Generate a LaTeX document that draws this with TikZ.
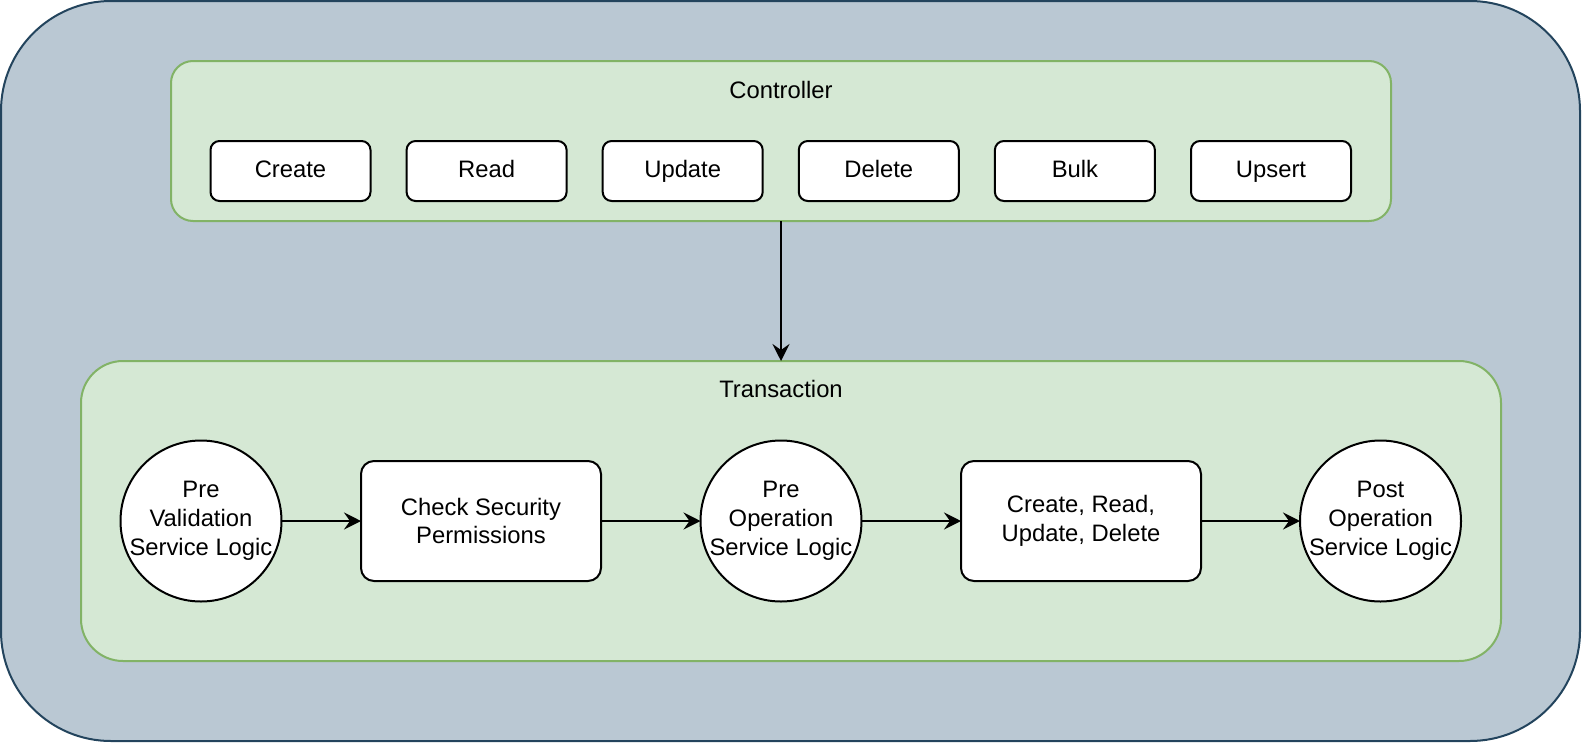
\documentclass[tikz,border=0pt]{standalone}
\usepackage{fontspec}
\setmainfont{Liberation Sans}
\usetikzlibrary{arrows.meta}
\definecolor{outerfill}{HTML}{BAC8D3}
\definecolor{outerdraw}{HTML}{23445D}
\definecolor{grnfill}{HTML}{D5E8D4}
\definecolor{grndraw}{HTML}{82B366}
\begin{document}
\begin{tikzpicture}[x=1pt,y=-1pt,
  every node/.style={font=\fontsize{23.8}{28.8}\selectfont, inner sep=0pt, outer sep=0pt},
  outerbox/.style={draw=outerdraw, fill=outerfill, line width=2pt, rounded corners=110pt},
  groupbox/.style={draw=grndraw, fill=grnfill, line width=2pt},
  btn/.style={draw=black, fill=white, line width=2pt, rounded corners=9pt, minimum width=160pt, minimum height=60pt, text height=17.1pt, text depth=5pt},
  stepbox/.style={draw=black, fill=white, line width=2pt, rounded corners=13pt, minimum width=240pt, minimum height=120pt, align=center},
  stepcircle/.style={draw=black, fill=white, line width=2pt, circle, minimum size=161pt},
  flow/.style={draw=black, line width=2pt, -{Stealth[length=17pt,width=17pt,inset=6pt]}}
]
\useasboundingbox (0,0) rectangle (1582,742);
\node[outerbox, minimum width=1579pt, minimum height=740pt] (outer) at (790.5,371) {};
\node[groupbox, rounded corners=22pt, minimum width=1220pt, minimum height=160pt] (ctrl) at (781,141) {};
\node (ctrltitle) at (781,90) {Controller};
\node[btn] (create) at (290.5,171) {Create};
\node[btn] (read) at (486.6,171) {Read};
\node[btn] (update) at (682.7,171) {Update};
\node[btn] (delete) at (878.8,171) {Delete};
\node[btn] (bulk) at (1074.9,171) {Bulk};
\node[btn] (upsert) at (1271,171) {Upsert};

\node[groupbox, rounded corners=42pt, minimum width=1420pt, minimum height=300pt] (trans) at (791,511) {};
\node (transtitle) at (781,388.5) {Transaction};

\node[stepcircle, label={[align=center, font=\fontsize{23.8}{28.8}\selectfont]center:Pre\\Validation\\Service Logic}] (prev) at (201,521) {};
\node[stepbox] (check) at (481,521) {Check Security\\Permissions};
\node[stepcircle, label={[align=center, font=\fontsize{23.8}{28.8}\selectfont]center:Pre\\Operation\\Service Logic}] (preop) at (781,521) {};
\node[stepbox] (crud) at (1081,521) {Create, Read,\\Update, Delete};
\node[stepcircle, label={[align=center, font=\fontsize{23.8}{28.8}\selectfont]center:Post\\Operation\\Service Logic}] (postop) at (1380.5,521) {};

\draw[flow] (ctrl.south) -- (ctrl.south |- trans.north);
\draw[flow] (prev.east) -- (check.west);
\draw[flow] (check.east) -- (preop.west);
\draw[flow] (preop.east) -- (crud.west);
\draw[flow] (crud.east) -- (postop.west);
\end{tikzpicture}
\end{document}
